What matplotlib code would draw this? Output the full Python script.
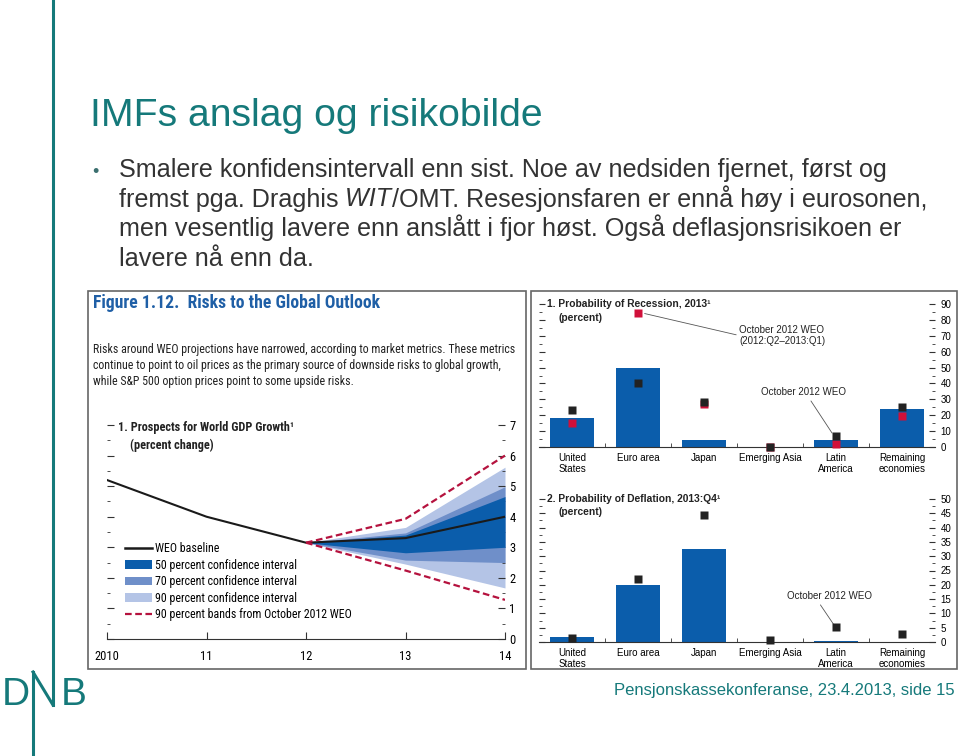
import matplotlib
matplotlib.use("Agg")
import matplotlib.pyplot as plt
from matplotlib import font_manager
from matplotlib.patches import Rectangle, Patch
from matplotlib.lines import Line2D
from matplotlib.ticker import MultipleLocator

# ---- data ----
years = [2010, 2011, 2012, 2013, 2014]
year_labels = ["2010", "11", "12", "13", "14"]
weo_baseline = [5.2, 4.0, 3.15, 3.3, 4.0]

band_years = [2012, 2013, 2014]
ci50_low = [3.15, 2.82, 3.0]
ci50_high = [3.15, 3.4, 4.66]
ci70_low = [3.15, 2.58, 2.5]
ci70_high = [3.15, 3.47, 4.98]
ci90_low = [3.15, 2.45, 1.67]
ci90_high = [3.15, 3.65, 5.62]
oct2012_low = [3.15, 2.24, 1.28]
oct2012_high = [3.15, 3.93, 6.0]

regions = ["United\nStates", "Euro area", "Japan", "Emerging Asia",
           "Latin\nAmerica", "Remaining\neconomies"]
recession_now = [18, 50, 4.5, 0, 4.5, 24]
recession_oct_2013 = [23, 40, 28.5, 0, 7, 25]
recession_oct_q2q1 = [15, 84.5, 27, 0, 2, 19.5]
deflation_now = [1.7, 20, 32.5, 0, 0.5, 0]
deflation_oct = [1.5, 22, 44.5, 0.7, 5.3, 2.9]

bullet_lines = [
    "Smalere konfidensintervall enn sist. Noe av nedsiden fjernet, først og",
    None,
    "men vesentlig lavere enn anslått i fjor høst. Også deflasjonsrisikoen er",
    "lavere nå enn da.",
]
line2_parts = [("fremst pga. Draghis", "normal"), (" WIT", "italic"),
               ("/OMT. Resesjonsfaren er ennå høy i eurosonen,", "normal")]

desc_lines = [
    "Risks around WEO projections have narrowed, according to market metrics. These metrics",
    "continue to point to oil prices as the primary source of downside risks to global growth,",
    "while S&P 500 option prices point to some upside risks.",
]

# ---- fonts / colours ----
names = {f.name for f in font_manager.fontManager.ttflist}
NARROW = next((n for n in ["Liberation Sans Narrow", "Roboto Condensed"] if n in names),
              "Liberation Sans")
SANS = "Liberation Sans" if "Liberation Sans" in names else "DejaVu Sans"
plt.rcParams["font.family"] = [NARROW, "DejaVu Sans"]

TEAL = "#15797a"
DARK = "#0b5dab"
MID = "#6f8fc9"
LIGHT = "#b4c4e6"
RED = "#b5123e"
SQRED = "#d0103a"

fig = plt.figure(figsize=(9.6, 7.56), dpi=100)


def fx(px):
    return px / 960


def fy(py):
    return 1 - py / 756


# ---- slide frame, logo, title ----
fig.add_artist(Line2D([fx(53), fx(53)], [fy(0), fy(705)], color=TEAL, lw=2.2))
fig.add_artist(Line2D([fx(33), fx(33)], [fy(672), fy(756)], color=TEAL, lw=2.2))
fig.add_artist(Line2D([fx(33), fx(53)], [fy(672), fy(705)], color=TEAL, lw=2.2))
fig.text(fx(2), fy(705), "D", fontsize=28, color=TEAL, family=SANS, va="baseline")
fig.text(fx(61), fy(705), "B", fontsize=28, color=TEAL, family=SANS, va="baseline")

fig.text(fx(90), fy(126), "IMFs anslag og risikobilde", fontsize=28.2, color=TEAL,
         family=SANS, va="baseline")

fig.text(fx(92), fy(177), "•", fontsize=13, color="#3b6f6f", family=SANS, va="baseline")
baselines = [177, 206.5, 236, 265.5]
renderer = fig.canvas.get_renderer()
for line, yb in zip(bullet_lines, baselines):
    if line is not None:
        fig.text(fx(119), fy(yb), line, fontsize=18.1, color="#333333", family=SANS,
                 va="baseline")
    else:
        xpos = fx(119)
        for part, style in line2_parts:
            t = fig.text(xpos, fy(yb), part, fontsize=18.1, color="#333333", family=SANS,
                         style=style, va="baseline")
            bb = t.get_window_extent(renderer)
            xpos = bb.x1 / fig.bbox.width

fig.text(fx(955), fy(695), "Pensjonskassekonferanse, 23.4.2013, side 15", fontsize=12,
         color=TEAL, family=SANS, ha="right", va="baseline")

# ---- panel boxes ----
for x0, x1 in [(88, 526), (531, 957)]:
    fig.add_artist(Rectangle((fx(x0), fy(669)), (x1 - x0) / 960, 378 / 756,
                             transform=fig.transFigure, fill=False, ec="#666666", lw=1.2))

fig.text(fx(93), fy(302.7), "Figure 1.12.  Risks to the Global Outlook", fontsize=12.7,
         weight="bold", color="#1f5fa6", va="center")
for line, yc in zip(desc_lines, [349.3, 365.7, 381.7]):
    fig.text(fx(93), fy(yc), line, fontsize=8.6, color="#222222", va="center")

# ---- left chart: world GDP growth ----
ax = fig.add_axes([fx(107), fy(639), 398 / 960, 214 / 756])
ax.fill_between(band_years, ci90_low, ci90_high, color=LIGHT, lw=0, zorder=1)
ax.fill_between(band_years, ci70_low, ci70_high, color=MID, lw=0, zorder=2)
ax.fill_between(band_years, ci50_low, ci50_high, color=DARK, lw=0, zorder=3)
ax.plot(years, weo_baseline, color="#1a1a1a", lw=1.5, zorder=4)
for band in (oct2012_low, oct2012_high):
    ax.plot(band_years, band, color=RED, lw=1.6, dashes=(3, 1.6), zorder=5)

ax.set_xlim(2010, 2014)
ax.set_ylim(0, 7)
for s in ("top", "left", "right"):
    ax.spines[s].set_visible(False)
ax.spines["bottom"].set_color("#333333")
ax.set_xticks(years)
ax.set_xticklabels(year_labels)
ax.tick_params(axis="x", direction="in", length=5, pad=8, labelsize=9, color="#333333")
ax.yaxis.set_major_locator(MultipleLocator(1))
ax.yaxis.set_minor_locator(MultipleLocator(0.5))
ax.tick_params(axis="y", which="both", left=True, right=True, labelleft=False,
               labelright=True, direction="in", labelsize=9, pad=3, color="#333333")
ax.tick_params(axis="y", which="major", length=5)
ax.tick_params(axis="y", which="minor", length=2.5)

ax.text(0.0276, 0.99, "1. Prospects for World GDP Growth¹", transform=ax.transAxes,
        fontsize=8.8, weight="bold", va="center", color="#222222")
ax.text(0.058, 0.907, "(percent change)", transform=ax.transAxes,
        fontsize=8.8, weight="bold", va="center", color="#222222")

handles = [
    Line2D([], [], color="#1a1a1a", lw=1.8),
    Patch(color=DARK, lw=0),
    Patch(color=MID, lw=0),
    Patch(color=LIGHT, lw=0),
    Line2D([], [], color=RED, lw=1.6, dashes=(3, 1.6)),
]
labels = ["WEO baseline", "50 percent confidence interval", "70 percent confidence interval",
          "90 percent confidence interval", "90 percent bands from October 2012 WEO"]
ax.legend(handles, labels, loc="upper left", bbox_to_anchor=(0.045, 0.453),
          frameon=False, fontsize=8.6, handlelength=2.3, handletextpad=0.25,
          labelspacing=0.3, borderpad=0, borderaxespad=0)


# ---- right charts: recession / deflation probabilities ----
def bar_panel(rect, ymax, major, title):
    a = fig.add_axes(rect)
    a.set_xlim(-0.5, 5.5)
    a.set_ylim(0, ymax)
    for s in ("top", "left", "right"):
        a.spines[s].set_visible(False)
    a.spines["bottom"].set_color("#333333")
    a.set_xticks(range(len(regions)))
    a.set_xticklabels(regions, linespacing=1.15)
    a.set_xticks([i + 0.5 for i in range(len(regions) - 1)], minor=True)
    a.tick_params(axis="x", which="major", length=0, pad=4, labelsize=7,
                  labelfontfamily=SANS)
    a.tick_params(axis="x", which="minor", direction="in", length=3, color="#333333")
    a.yaxis.set_major_locator(MultipleLocator(major))
    a.yaxis.set_minor_locator(MultipleLocator(major / 2))
    a.tick_params(axis="y", which="both", left=True, right=True, labelleft=False,
                  labelright=True, direction="in", labelsize=7, pad=4,
                  labelfontfamily=SANS, color="#333333")
    a.tick_params(axis="y", which="major", length=4)
    a.tick_params(axis="y", which="minor", length=2)
    a.text(0.02, 1.0, title, transform=a.transAxes, fontsize=7.4, weight="bold",
           family=SANS, va="center", color="#222222")
    return a


x = list(range(len(regions)))

a1 = bar_panel([fx(539), fy(447), 396 / 960, 143 / 756], 90, 10,
               "1. Probability of Recession, 2013¹")
a1.text(0.05, 0.9, "(percent)", transform=a1.transAxes, fontsize=7.4, weight="bold",
        family=SANS, va="center", color="#222222")
a1.bar(x, recession_now, width=0.67, color=DARK, zorder=2)
a1.plot(x, recession_oct_q2q1, ls="none", marker="s", ms=6, color=SQRED, mec="none",
        zorder=3, clip_on=False)
a1.plot(x, recession_oct_2013, ls="none", marker="s", ms=6, color="#222222", mec="none",
        zorder=4, clip_on=False)
a1.annotate("October 2012 WEO\n(2012:Q2–2013:Q1)", xy=(1.1, 84), xytext=(2.53, 70.2),
            fontsize=7, family=SANS, ha="left", va="center", color="#222222",
            linespacing=1.1,
            arrowprops=dict(arrowstyle="-", color="#555555", lw=0.6, shrinkA=0, shrinkB=0,
                            relpos=(0, 0.5)))
a1.annotate("October 2012 WEO", xy=(3.94, 8.8), xytext=(2.86, 34.6),
            fontsize=7, family=SANS, ha="left", va="center", color="#222222",
            arrowprops=dict(arrowstyle="-", color="#555555", lw=0.6, shrinkA=1, shrinkB=0,
                            relpos=(0.56, 0)))

a2 = bar_panel([fx(539), fy(642), 396 / 960, 143 / 756], 50, 5,
               "2. Probability of Deflation, 2013:Q4¹")
a2.text(0.05, 0.909, "(percent)", transform=a2.transAxes, fontsize=7.4, weight="bold",
        family=SANS, va="center", color="#222222")
a2.bar(x, deflation_now, width=0.67, color=DARK, zorder=2)
a2.plot(x, deflation_oct, ls="none", marker="s", ms=6, color="#222222", mec="none",
        zorder=4, clip_on=False)
a2.annotate("October 2012 WEO", xy=(3.98, 5.6), xytext=(3.26, 16.1),
            fontsize=7, family=SANS, ha="left", va="center", color="#222222",
            arrowprops=dict(arrowstyle="-", color="#555555", lw=0.6, shrinkA=1, shrinkB=0,
                            relpos=(0.36, 0)))

fig.savefig("out.png", dpi=100)
